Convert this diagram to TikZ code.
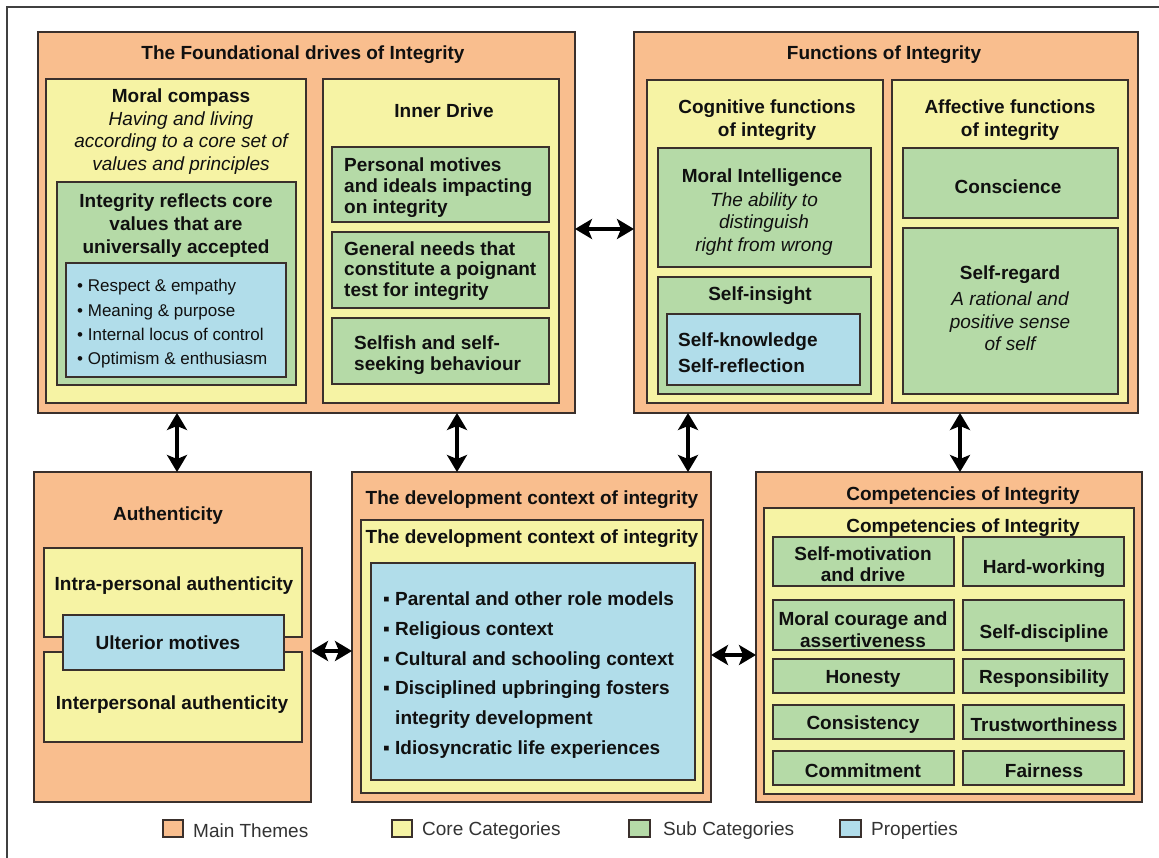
\documentclass[tikz,border=0pt]{standalone}
\usepackage{fontspec}
\setmainfont{Liberation Sans}
\usetikzlibrary{fit,arrows.meta}
\definecolor{orangeC}{HTML}{F9BE8E}
\definecolor{yellowC}{HTML}{F6F3A4}
\definecolor{greenC}{HTML}{B5DAA7}
\definecolor{blueC}{HTML}{B1DDEA}
\definecolor{edgeC}{HTML}{3A302C}
\definecolor{txtC}{HTML}{101010}
\definecolor{legC}{HTML}{333333}
\newcommand\mkbox[6]{\node[#1, fit={(#3,#4) (#5,#6)}] (#2) {};}
\begin{document}
\begin{tikzpicture}[x=1pt,y=-1pt,
  bxs/.style={draw=edgeC, line width=1.8pt, inner sep=0pt, outer sep=0pt},
  mainbox/.style={bxs, fill=orangeC},
  corebox/.style={bxs, fill=yellowC},
  subbox/.style={bxs, fill=greenC},
  propbox/.style={bxs, fill=blueC},
  legbox/.style={line width=1.5pt},
  txtbase/.style={text=txtC, inner sep=0pt, yshift=-2.5pt},
  boldtext/.style={txtbase, align=center, font=\fontsize{19}{23}\selectfont\bfseries},
  boldleft/.style={txtbase, align=left, anchor=west, font=\fontsize{19}{20.8}\selectfont\bfseries},
  italtext/.style={txtbase, align=center, font=\fontsize{19}{22.7}\selectfont\itshape},
  smalllist/.style={txtbase, align=left, anchor=west, font=\fontsize{17}{24.3}\selectfont},
  devlist/.style={txtbase, align=left, anchor=west, font=\fontsize{19}{29.8}\selectfont\bfseries},
  legtext/.style={text=legC, inner sep=0pt, yshift=-2pt, anchor=west, font=\fontsize{19}{23}\selectfont},
  biarrow/.style={{Stealth[length=17pt,width=20pt,inset=4pt]}-{Stealth[length=17pt,width=20pt,inset=4pt]}, line width=3.2pt, draw=black},
  framec/.style={draw=black!75, line width=1.5pt}
]
\useasboundingbox (0,0) rectangle (1159,858);
\fill[white] (0,0) rectangle (1159,858);
\draw[framec] (7,858) -- (7,7) -- (1159,7);

% ---------- Top-left main theme ----------
\mkbox{mainbox}{tl}{38}{32}{575}{413}
\mkbox{corebox}{mc}{46}{79}{306}{403}
\mkbox{corebox}{idr}{323}{79}{559}{403}
\mkbox{subbox}{ir}{57}{182}{296}{385}
\mkbox{propbox}{irp}{66}{263}{286}{377}
\mkbox{subbox}{id1}{332}{147}{549}{222}
\mkbox{subbox}{id2}{332}{232}{549}{308}
\mkbox{subbox}{id3}{332}{318}{549}{384}
\node[boldtext] (tlT) at (303,52) {The Foundational drives of Integrity};
\node[boldtext] (mcT) at (181,95) {Moral compass};
\node[italtext] (mcD) at (181,140.5) {Having and living\\according to a core set of\\values and principles};
\node[boldtext] (irT) at (176,223) {Integrity reflects core\\values that are\\universally accepted};
\node[smalllist] (irL) at (77,321.5) {• Respect \& empathy\\• Meaning \& purpose\\• Internal locus of control\\• Optimism \& enthusiasm};
\node[boldtext] (idT) at (444,108) {Inner Drive};
\node[boldleft] (id1T) at (344,185) {Personal motives\\and ideals impacting\\on integrity};
\node[boldleft] (id2T) at (344,268.5) {General needs that\\constitute a poignant\\test for integrity};
\node[boldleft] (id3T) at (354,353) {Selfish and self-\\seeking behaviour};

% ---------- Top-right main theme ----------
\mkbox{mainbox}{tr}{634}{32}{1138}{413}
\mkbox{corebox}{cg}{647}{80}{883}{403}
\mkbox{corebox}{af}{892}{80}{1128}{403}
\mkbox{subbox}{mi}{658}{148}{871}{267}
\mkbox{subbox}{si}{658}{277}{871}{394}
\mkbox{propbox}{sk}{667}{314}{860}{385}
\mkbox{subbox}{co}{903}{148}{1118}{218}
\mkbox{subbox}{sr}{903}{228}{1118}{394}
\node[boldtext] (trT) at (884,52) {Functions of Integrity};
\node[boldtext] (cgT) at (767,117.5) {Cognitive functions\\of integrity};
\node[boldtext] (afT) at (1010,117.5) {Affective functions\\of integrity};
\node[boldtext] (miT) at (762,175) {Moral Intelligence};
\node[italtext] (miD) at (764,221.5) {The ability to\\distinguish\\right from wrong};
\node[boldtext] (siT) at (760,293) {Self-insight};
\node[boldleft, font=\fontsize{19}{26}\selectfont\bfseries] (skT) at (678,350) {Self-knowledge\\Self-reflection};
\node[boldtext] (coT) at (1008,184) {Conscience};
\node[boldtext] (srT) at (1010,272) {Self-regard};
\node[italtext] (srD) at (1010,319) {A rational and\\positive sense\\of self};

% ---------- Bottom-left: Authenticity ----------
\mkbox{mainbox}{au}{34}{472}{311}{802}
\mkbox{corebox}{intra}{44}{548}{302}{637}
\mkbox{corebox}{inter}{44}{652}{302}{742}
\mkbox{propbox}{ul}{63}{615}{284}{670}
\node[boldtext] (auT) at (168,513) {Authenticity};
\node[boldtext] (intraT) at (174,583) {Intra-personal authenticity};
\node[boldtext] (ulT) at (168,640) {Ulterior motives};
\node[boldtext] (interT) at (172,702) {Interpersonal authenticity};

% ---------- Bottom-middle: development context ----------
\mkbox{mainbox}{dv}{352}{472}{711}{802}
\mkbox{corebox}{dvc}{361}{520}{703}{793}
\mkbox{propbox}{dvp}{371}{563}{695}{780}
\node[boldtext] (dvT) at (532,497) {The development context of integrity};
\node[boldtext] (dvcT) at (532,536) {The development context of integrity};
\node[devlist] (dvL) at (383,672.5) {▪ Parental and other role models\\▪ Religious context\\▪ Cultural and schooling context\\▪ Disciplined upbringing fosters\\\hphantom{▪ }integrity development\\▪ Idiosyncratic life experiences};

% ---------- Bottom-right: competencies ----------
\mkbox{mainbox}{cp}{756}{472}{1142}{802}
\mkbox{corebox}{cpc}{764}{508}{1134}{794}
\mkbox{subbox}{g11}{773}{537}{954}{586}
\mkbox{subbox}{g12}{963}{537}{1124}{586}
\mkbox{subbox}{g21}{773}{600}{954}{650}
\mkbox{subbox}{g22}{963}{600}{1124}{650}
\mkbox{subbox}{g31}{773}{659}{954}{693}
\mkbox{subbox}{g32}{963}{659}{1124}{693}
\mkbox{subbox}{g41}{773}{705}{954}{739}
\mkbox{subbox}{g42}{963}{705}{1124}{739}
\mkbox{subbox}{g51}{773}{751}{954}{785}
\mkbox{subbox}{g52}{963}{751}{1124}{785}
\node[boldtext] (cpT) at (963,493) {Competencies of Integrity};
\node[boldtext] (cpcT) at (963,525) {Competencies of Integrity};
\node[boldtext, font=\fontsize{19}{21}\selectfont\bfseries] (g11T) at (863,562) {Self-motivation\\and drive};
\node[boldtext] (g12T) at (1044,566) {Hard-working};
\node[boldtext, font=\fontsize{19}{22.5}\selectfont\bfseries] (g21T) at (863,627) {Moral courage and\\assertiveness};
\node[boldtext] (g22T) at (1044,631) {Self-discipline};
\node[boldtext] (g31T) at (863,676) {Honesty};
\node[boldtext] (g32T) at (1044,676) {Responsibility};
\node[boldtext] (g41T) at (863,722) {Consistency};
\node[boldtext] (g42T) at (1044,722) {Trustworthiness};
\node[boldtext] (g51T) at (863,768) {Commitment};
\node[boldtext] (g52T) at (1044,768) {Fairness};

% ---------- Connectors ----------
\coordinate (h1) at (0,229);
\coordinate (h2) at (0,651);
\coordinate (h3) at (0,655);
\coordinate (v1) at (177,0);
\coordinate (v2) at (457,0);
\coordinate (v3) at (688,0);
\coordinate (v4) at (960,0);
\draw[biarrow] (tl.east |- h1) -- (tr.west |- h1);
\draw[biarrow] (au.east |- h2) -- (dv.west |- h2);
\draw[biarrow] (dv.east |- h3) -- (cp.west |- h3);
\draw[biarrow] (tl.south -| v1) -- (au.north -| v1);
\draw[biarrow] (tl.south -| v2) -- (dv.north -| v2);
\draw[biarrow] (tr.south -| v3) -- (dv.north -| v3);
\draw[biarrow] (tr.south -| v4) -- (cp.north -| v4);

% ---------- Legend ----------
\mkbox{mainbox,legbox}{lg1}{163}{820}{183}{837}
\mkbox{corebox,legbox}{lg2}{392}{820}{412}{837}
\mkbox{subbox,legbox}{lg3}{629}{820}{650}{837}
\mkbox{propbox,legbox}{lg4}{840}{820}{861}{837}
\node[legtext] (lg1T) at (193,829) {Main Themes};
\node[legtext] (lg2T) at (422,829) {Core Categories};
\node[legtext] (lg3T) at (663,829) {Sub Categories};
\node[legtext] (lg4T) at (871,829) {Properties};
\end{tikzpicture}
\end{document}
